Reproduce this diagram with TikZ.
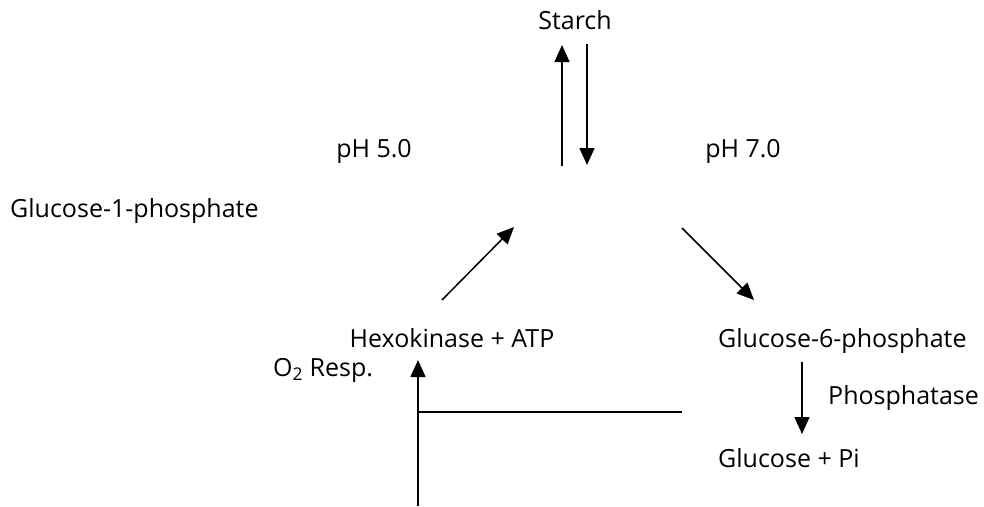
\documentclass[tikz,border=0pt]{standalone}
\usepackage{fontspec}
\setmainfont{Open Sans}
\usetikzlibrary{arrows.meta}
\begin{document}
\begin{tikzpicture}[x=1pt,y=-1pt,
  lbl/.style={inner sep=0pt,font=\fontsize{25}{29}\selectfont,text height=18pt,text depth=5pt},
  arr/.style={line width=1.5pt,-{Triangle[length=17pt,width=15pt]}},
  ln/.style={line width=1.5pt}]
\useasboundingbox (0,0) rectangle (984,506);
\node[lbl] (starch) at (575,23) {Starch};
\node[lbl] (ph5) at (374,151) {pH 5.0};
\node[lbl] (ph7) at (743,151) {pH 7.0};
\node[lbl,anchor=west] (g1p) at (10,211) {Glucose-1-phosphate};
\node[lbl] (hex) at (452,341) {Hexokinase + ATP};
\node[lbl,anchor=west] (g6p) at (718,341) {Glucose-6-phosphate};
\node[lbl,anchor=west] (phos) at (828,398) {Phosphatase};
\node[lbl,anchor=west] (glc) at (718,461) {Glucose + Pi};
\node[lbl,anchor=west] (o2) at (273,370) {O\textsubscript{2} Resp.};
\coordinate (upA) at (562,166);
\coordinate (upB) at (562,45);
\coordinate (dnA) at (587,44);
\coordinate (dnB) at (587,165);
\coordinate (d1A) at (442,300);
\coordinate (d1B) at (514,227);
\coordinate (d2A) at (682,228);
\coordinate (d2B) at (754,300);
\coordinate (pA) at (802,362);
\coordinate (pB) at (802,434);
\coordinate (vA) at (418,506);
\coordinate (vB) at (418,360);
\coordinate (hA) at (418,412);
\coordinate (hB) at (682,412);
\draw[arr] (upA) -- (upB);
\draw[arr] (dnA) -- (dnB);
\draw[arr] (d1A) -- (d1B);
\draw[arr] (d2A) -- (d2B);
\draw[arr] (pA) -- (pB);
\draw[arr] (vA) -- (vB);
\draw[ln] (hA) -- (hB);
\end{tikzpicture}
\end{document}
